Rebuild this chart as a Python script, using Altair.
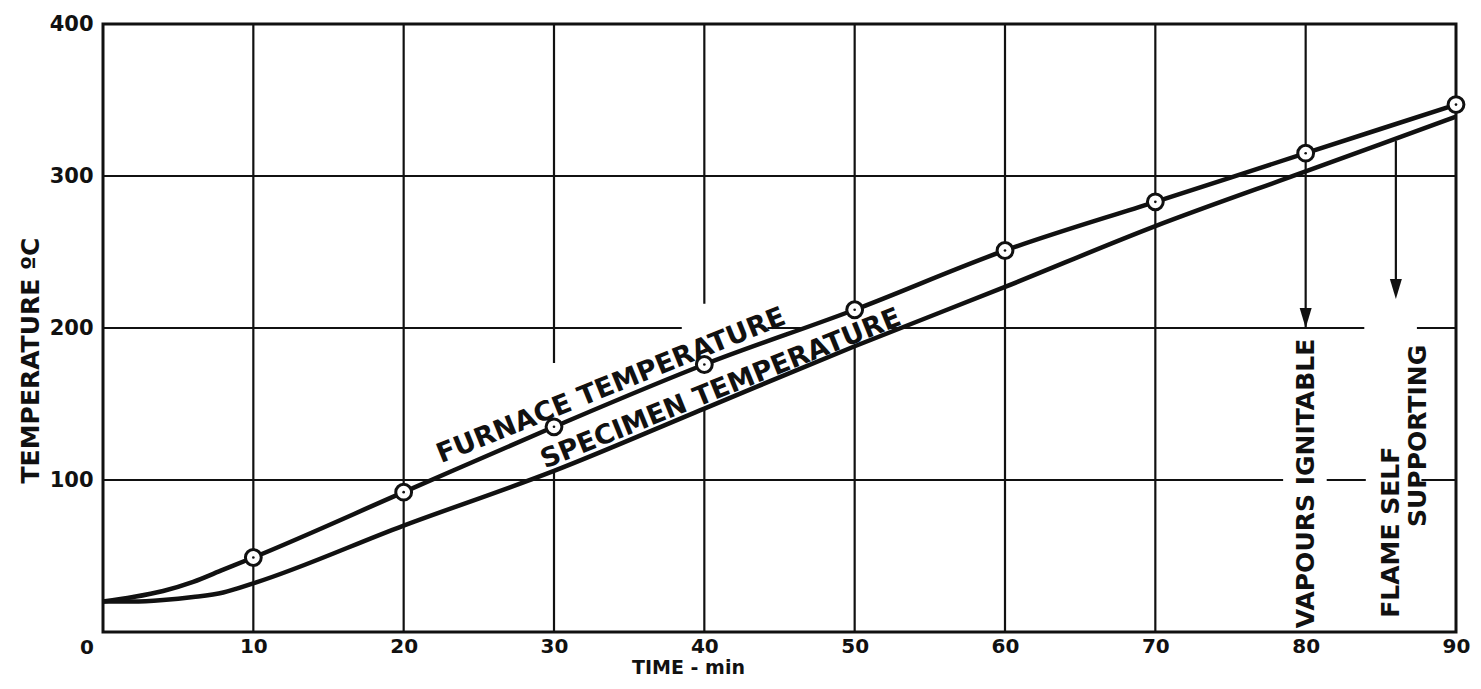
import altair as alt
import pandas as pd

# ---- data ----
furnace_time = [0, 2, 4, 6, 8, 10, 20, 30, 40, 50, 60, 70, 80, 90]
furnace_temp = [20, 23, 27, 33, 41, 49, 92, 135, 176, 212, 251, 283, 315, 347]
specimen_time = [0, 2, 4, 6, 8, 10, 20, 30, 40, 50, 60, 70, 80, 90]
specimen_temp = [20, 20, 21, 23, 26, 32, 70, 106, 147, 188, 227, 267, 303, 339]
marker_time = [10, 20, 30, 40, 50, 60, 70, 80, 90]
marker_temp = [49, 92, 135, 176, 212, 251, 283, 315, 347]

x_ticks = [10, 20, 30, 40, 50, 60, 70, 80, 90]
y_ticks = [100, 200, 300, 400]

# grid segments (with the gaps of the original drawing)
hgrid_y = [100, 100, 100, 200, 200, 200, 200, 300]
hgrid_x1 = [0, 81.4, 87.7, 0, 44.2, 52.4, 87.4, 0]
hgrid_x2 = [78.5, 84.0, 90, 38.5, 46.5, 83.9, 90, 90]
vgrid_x = [10, 20, 30, 30, 40, 40, 50, 50, 60, 70, 80]
vgrid_y1 = [0, 0, 0, 177, 0, 216, 0, 208, 0, 0, 200]
vgrid_y2 = [400, 400, 106, 400, 147, 400, 189, 400, 400, 400, 400]

# arrows
arrow_x = [86]
arrow_from = [323]
arrow_to = [225]
arrowhead_x = [80, 86]
arrowhead_y = [200, 219]

# labels
curve_labels = ["FURNACE TEMPERATURE", "SPECIMEN TEMPERATURE"]
curve_label_x = [34.0, 41.3]
curve_label_y = [157.0, 155.0]
event_labels = ["VAPOURS IGNITABLE", "FLAME SELF", "SUPPORTING"]
event_label_x = [80, 85.7, 87.5]
event_label_y = [97.7, 65.6, 129]

FONT = "DejaVu Sans"
INK = "#111111"

xs = alt.Scale(domain=[0, 90], nice=False, zero=False)
ys = alt.Scale(domain=[0, 400], nice=False, zero=False)

df_f = pd.DataFrame({"t": furnace_time, "v": furnace_temp})
df_s = pd.DataFrame({"t": specimen_time, "v": specimen_temp})
df_m = pd.DataFrame({"t": marker_time, "v": marker_temp})
df_h = pd.DataFrame({"y": hgrid_y, "x1": hgrid_x1, "x2": hgrid_x2})
df_v = pd.DataFrame({"x": vgrid_x, "y1": vgrid_y1, "y2": vgrid_y2})
df_a = pd.DataFrame({"x": arrow_x, "y1": arrow_from, "y2": arrow_to})
df_ah = pd.DataFrame({"x": arrowhead_x, "y": arrowhead_y})
df_cl = pd.DataFrame({"x": curve_label_x, "y": curve_label_y, "text": curve_labels})
df_el = pd.DataFrame({"x": event_label_x, "y": event_label_y, "text": event_labels})
df_zero = pd.DataFrame({"x": [0], "y": [0], "text": ["0"]})

x_axis = alt.Axis(
    values=x_ticks, title="TIME - min", grid=False, domain=False, ticks=False,
    labelFont=FONT, labelFontSize=20, labelFontWeight="bold", labelColor=INK,
    labelPadding=4, labelFlush=False, labelOverlap=False,
    titleFont=FONT, titleFontSize=19, titleFontWeight="bold", titleColor=INK,
    titleX=585, titleY=41, titleAlign="center", titleBaseline="alphabetic",
)
y_axis = alt.Axis(
    values=y_ticks, title="TEMPERATURE ºC", grid=False, domain=False, ticks=False,
    labelFont=FONT, labelFontSize=21, labelFontWeight="bold", labelColor=INK,
    labelPadding=10, labelFlush=False, labelOverlap=False,
    titleFont=FONT, titleFontSize=25, titleFontWeight="bold", titleColor=INK,
    titleAngle=270, titleX=-73, titleY=336, titleAlign="center", titleBaseline="middle",
)


def X(field):
    return alt.X(field, scale=xs, axis=x_axis, title="TIME - min")


def Y(field):
    return alt.Y(field, scale=ys, axis=y_axis, title="TEMPERATURE ºC")


furnace = alt.Chart(df_f).mark_line(color=INK, strokeWidth=4.5, interpolate="monotone").encode(
    x=X("t:Q"), y=Y("v:Q"),
)
specimen = alt.Chart(df_s).mark_line(color=INK, strokeWidth=4.5, interpolate="monotone").encode(
    x=X("t:Q"), y=Y("v:Q"),
)
hgrid = alt.Chart(df_h).mark_rule(color=INK, strokeWidth=2.2).encode(
    x=X("x1:Q"), x2="x2:Q", y=Y("y:Q"),
)
vgrid = alt.Chart(df_v).mark_rule(color=INK, strokeWidth=2.2).encode(
    x=X("x:Q"), y=Y("y1:Q"), y2="y2:Q",
)
arrows = alt.Chart(df_a).mark_rule(color=INK, strokeWidth=2.2).encode(
    x=X("x:Q"), y=Y("y1:Q"), y2="y2:Q",
)
heads = alt.Chart(df_ah).mark_point(
    shape="M -0.3 -1 L 0.3 -1 L 0 0 Z", size=1600, filled=True, color=INK, opacity=1,
).encode(x=X("x:Q"), y=Y("y:Q"))
markers = alt.Chart(df_m).mark_point(
    shape="circle", size=250, filled=True, fill="white", stroke=INK, strokeWidth=3, opacity=1,
).encode(x=X("t:Q"), y=Y("v:Q"))
dots = alt.Chart(df_m).mark_point(
    shape="circle", size=7, filled=True, color=INK, opacity=1,
).encode(x=X("t:Q"), y=Y("v:Q"))
curve_text = alt.Chart(df_cl).mark_text(
    font=FONT, fontSize=27, fontWeight="bold", color=INK, angle=338,
    align="center", baseline="alphabetic",
).encode(x=X("x:Q"), y=Y("y:Q"), text="text:N")
event_text = alt.Chart(df_el).mark_text(
    font=FONT, fontSize=25, fontWeight="bold", color=INK, angle=270,
    align="center", baseline="middle",
).encode(x=X("x:Q"), y=Y("y:Q"), text="text:N")
zero_text = alt.Chart(df_zero).mark_text(
    font=FONT, fontSize=20, fontWeight="bold", color=INK,
    align="center", baseline="middle", dx=-16, dy=16,
).encode(x=X("x:Q"), y=Y("y:Q"), text="text:N")

chart = alt.layer(
    furnace, hgrid, vgrid, arrows, heads, specimen, markers, dots,
    curve_text, event_text, zero_text,
).properties(
    width=1353, height=608,
    autosize=alt.AutoSizeParams(type="none"),
    padding={"left": 95, "top": 16, "right": 16, "bottom": 47},
    background="white",
).configure_view(stroke=INK, strokeWidth=3)

chart.save("out.html", embed_options={"renderer": "svg", "actions": False})
